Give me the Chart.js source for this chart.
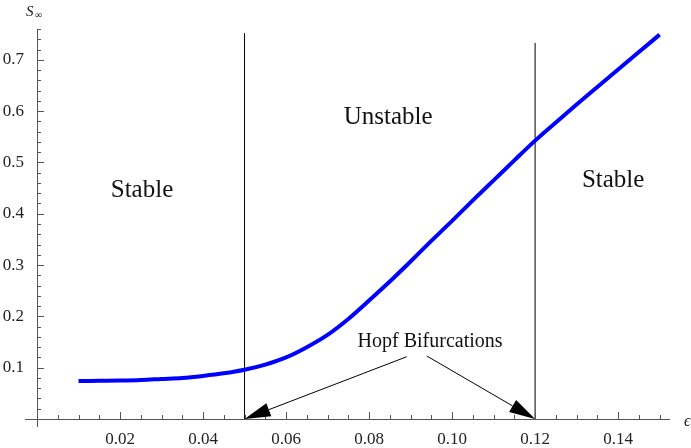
<!DOCTYPE html>
<html>
<head>
<meta charset="utf-8">
<script src="https://cdn.jsdelivr.net/npm/chart.js@4"></script>
<style>
  html, body { margin: 0; padding: 0; background: #fff; }
  #wrap { width: 691px; height: 448px; }
</style>
</head>
<body>
<div id="wrap"><canvas id="sChart" width="691" height="448"></canvas></div>
<script>
// epsilon values and S-infinity
const epsilon = [0.010, 0.015, 0.020, 0.025, 0.030, 0.035, 0.040, 0.045, 0.050, 0.055,
  0.060, 0.065, 0.070, 0.075, 0.080, 0.085, 0.090, 0.095, 0.100, 0.105,
  0.110, 0.115, 0.120, 0.125, 0.130, 0.135, 0.140, 0.145, 0.150]
const sInfinity = [0.074, 0.0745, 0.075, 0.076, 0.078, 0.080, 0.084, 0.089, 0.096, 0.106,
  0.120, 0.140, 0.164, 0.195, 0.231, 0.268, 0.307, 0.347, 0.386, 0.426,
  0.465, 0.504, 0.5425, 0.578, 0.613, 0.647, 0.681, 0.715, 0.749]

// Hopf bifurcation points and the height of their marker lines
const hopfEps = [0.05, 0.12]
const hopfTop = [0.752, 0.733]

const xTickLabels = [0.02, 0.04, 0.06, 0.08, 0.10, 0.12, 0.14]
const yTickLabels = [0.1, 0.2, 0.3, 0.4, 0.5, 0.6, 0.7]
const xMinorTicks = [0.005, 0.01, 0.015, 0.025, 0.03, 0.035, 0.045, 0.05, 0.055, 0.065, 0.07, 0.075,
  0.085, 0.09, 0.095, 0.105, 0.11, 0.115, 0.125, 0.13, 0.135, 0.145, 0.15]
const yMinorTicks = [0.02, 0.04, 0.06, 0.08, 0.12, 0.14, 0.16, 0.18, 0.22, 0.24, 0.26, 0.28,
  0.32, 0.34, 0.36, 0.38, 0.42, 0.44, 0.46, 0.48, 0.52, 0.54, 0.56, 0.58,
  0.62, 0.64, 0.66, 0.68, 0.72, 0.74, 0.76]

const regionLabels = ["Stable", "Unstable", "Stable"]
const arrowLabel = "Hopf Bifurcations"

const serif = "'Liberation Serif', 'DejaVu Serif', serif"
const axisColor = "#555"

// axes crossing at the origin, tick marks, arrows and text
const decor = {
  id: "decor",
  afterDatasetsDraw(chart) {
    const { ctx } = chart
    const xs = chart.scales.x
    const ys = chart.scales.y
    const px = (v) => xs.getPixelForValue(v)
    const py = (v) => ys.getPixelForValue(v)
    const x0 = px(0)
    const y0 = py(0)

    ctx.save()
    ctx.strokeStyle = axisColor
    ctx.lineWidth = 1
    ctx.beginPath()
    ctx.moveTo(x0 - 12, y0 + 0.5)
    ctx.lineTo(xs.right, y0 + 0.5)
    ctx.moveTo(x0 + 0.5, ys.top)
    ctx.lineTo(x0 + 0.5, y0 + 8)
    xTickLabels.forEach((v) => {
      ctx.moveTo(Math.round(px(v)) + 0.5, y0)
      ctx.lineTo(Math.round(px(v)) + 0.5, y0 - 7)
    })
    xMinorTicks.forEach((v) => {
      ctx.moveTo(Math.round(px(v)) + 0.5, y0)
      ctx.lineTo(Math.round(px(v)) + 0.5, y0 - 4)
    })
    yTickLabels.forEach((v) => {
      ctx.moveTo(x0, Math.round(py(v)) + 0.5)
      ctx.lineTo(x0 + 7, Math.round(py(v)) + 0.5)
    })
    yMinorTicks.forEach((v) => {
      ctx.moveTo(x0, Math.round(py(v)) + 0.5)
      ctx.lineTo(x0 + 4, Math.round(py(v)) + 0.5)
    })
    ctx.stroke()

    // arrows to the bifurcation points
    const arrow = (fx, fy, tx, ty) => {
      const ax = px(fx), ay = py(fy), bx = px(tx), by = py(ty)
      const ang = Math.atan2(by - ay, bx - ax)
      const len = 26, half = 7
      const cx = bx - len * Math.cos(ang), cy = by - len * Math.sin(ang)
      ctx.strokeStyle = "#000"
      ctx.lineWidth = 1
      ctx.beginPath()
      ctx.moveTo(ax, ay)
      ctx.lineTo(cx, cy)
      ctx.stroke()
      ctx.fillStyle = "#000"
      ctx.beginPath()
      ctx.moveTo(bx, by)
      ctx.lineTo(cx + half * Math.sin(ang), cy - half * Math.cos(ang))
      ctx.lineTo(cx - half * Math.sin(ang), cy + half * Math.cos(ang))
      ctx.closePath()
      ctx.fill()
    }
    arrow(0.0891, 0.1214, hopfEps[0], 0)
    arrow(0.0939, 0.1228, hopfEps[1], 0)

    ctx.fillStyle = "#111"
    ctx.textAlign = "center"
    ctx.textBaseline = "middle"
    ctx.font = "25px " + serif
    ctx.fillText(regionLabels[0], px(0.0253), py(0.446))
    ctx.fillText(regionLabels[1], px(0.0846), py(0.587))
    ctx.fillText(regionLabels[2], px(0.1388), py(0.464))
    ctx.font = "20px " + serif
    ctx.textBaseline = "alphabetic"
    ctx.fillText(arrowLabel, px(0.0947), py(0.140))

    // axis titles
    ctx.textAlign = "left"
    ctx.font = "italic 15px " + serif
    ctx.fillText("S", 26, 16)
    ctx.font = "10px " + serif
    ctx.fillText("\u221E", 35, 18)
    ctx.font = "italic 16px " + serif
    ctx.fillText("\u03F5", 684, 426)
    ctx.restore()
  },
}

new Chart(document.getElementById("sChart"), {
  type: "line",
  data: {
    datasets: [
      {
        label: "S_inf",
        data: epsilon.map((e, i) => ({ x: e, y: sInfinity[i] })),
        borderColor: "#0000ff",
        borderWidth: 4,
        pointRadius: 0,
        cubicInterpolationMode: "monotone",
        fill: false,
        order: 0,
      },
      ...hopfEps.map((e, i) => ({
        label: "hopf" + i,
        data: [{ x: e, y: 0 }, { x: e, y: hopfTop[i] }],
        borderColor: "#000",
        borderWidth: 1,
        pointRadius: 0,
        fill: false,
        order: 1,
      })),
    ],
  },
  options: {
    responsive: false,
    devicePixelRatio: 1,
    animation: false,
    layout: { padding: { top: 29, right: 21, left: 0, bottom: 0 } },
    plugins: {
      legend: { display: false },
      tooltip: { enabled: false },
    },
    scales: {
      x: {
        type: "linear",
        min: 0,
        max: 0.1525,
        grid: { display: false },
        border: { display: false },
        afterBuildTicks: (axis) => { axis.ticks = xTickLabels.map((v) => ({ value: v })) },
        afterFit: (axis) => { axis.height = 29 },
        ticks: {
          padding: 2,
          color: "#222",
          font: { family: serif, size: 17 },
          callback: (v) => v.toFixed(2),
          maxRotation: 0,
        },
      },
      y: {
        type: "linear",
        min: 0,
        max: 0.76,
        grid: { display: false },
        border: { display: false },
        afterBuildTicks: (axis) => { axis.ticks = yTickLabels.map((v) => ({ value: v })) },
        afterFit: (axis) => { axis.width = 37 },
        ticks: {
          padding: 5,
          color: "#222",
          font: { family: serif, size: 17 },
          callback: (v) => v.toFixed(1),
        },
      },
    },
  },
  plugins: [decor],
})
</script>
</body>
</html>
